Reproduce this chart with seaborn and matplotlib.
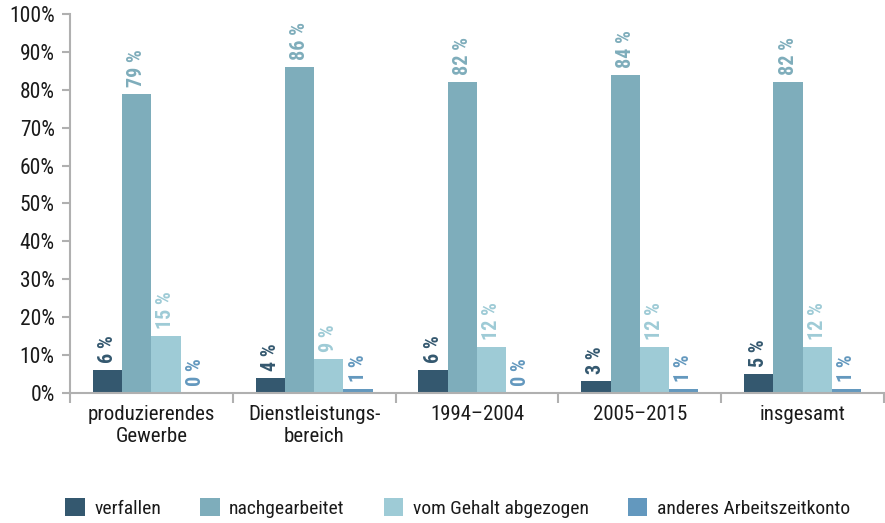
import matplotlib
matplotlib.use("Agg")
import matplotlib.pyplot as plt
import seaborn as sns
import pandas as pd
from matplotlib.patches import Patch
from matplotlib.ticker import FixedLocator, FuncFormatter

categories = ["produzierendes\nGewerbe", "Dienstleistungs-\nbereich", "1994–2004", "2005–2015", "insgesamt"]
series = ["verfallen", "nachgearbeitet", "vom Gehalt abgezogen", "anderes Arbeitszeitkonto"]
verfallen = [6, 4, 6, 3, 5]
nachgearbeitet = [79, 86, 82, 84, 82]
vom_gehalt = [15, 9, 12, 12, 12]
anderes = [0, 1, 0, 1, 1]
colors = ["#34586f", "#7eadbb", "#9ecbd6", "#6398be"]

values = [verfallen, nachgearbeitet, vom_gehalt, anderes]
rows = []
for s, vals in zip(series, values):
    for c, v in zip(categories, vals):
        rows.append({"Kategorie": c, "Serie": s, "Wert": v})
df = pd.DataFrame(rows)

sns.set_theme(style="white")
plt.rcParams["font.family"] = ["Roboto Condensed", "DejaVu Sans"]

fig = plt.figure(figsize=(8.85, 5.23), dpi=100)
ax = fig.add_axes([0.079, 0.249, 0.92, 0.724])

sns.barplot(data=df, x="Kategorie", y="Wert", hue="Serie", order=categories,
            hue_order=series, palette=colors, width=0.72, gap=0, saturation=1,
            edgecolor="none", linewidth=0, legend=False, ax=ax, errorbar=None)

for cont, col in zip(ax.containers, colors):
    for bar in cont:
        h = bar.get_height()
        ax.annotate(f"{int(round(h))} %", (bar.get_x() + bar.get_width() / 2, h),
                    xytext=(0, 5), textcoords="offset points", rotation=90,
                    ha="center", va="bottom", color=col, fontsize=14.5, fontweight="bold")

ax.set_ylim(0, 100)
ax.set_xlim(-0.5, 4.5)
ax.yaxis.set_major_locator(FixedLocator(range(0, 101, 10)))
ax.yaxis.set_major_formatter(FuncFormatter(lambda v, p: f"{int(v)}%"))
ax.tick_params(axis="y", which="major", length=6, width=1.5, color="#b0b0b0",
               labelsize=15.5, pad=5, left=True, labelcolor="#1a1a1a")
ax.xaxis.set_minor_locator(FixedLocator([i - 0.5 for i in range(6)]))
ax.tick_params(axis="x", which="major", length=0, labelsize=15, pad=9, labelcolor="#1a1a1a")
ax.tick_params(axis="x", which="minor", length=7, width=1.5, color="#b0b0b0", bottom=True)
ax.set_xlabel("")
ax.set_ylabel("")
for side in ["top", "right"]:
    ax.spines[side].set_visible(False)
for side in ["left", "bottom"]:
    ax.spines[side].set_color("#b0b0b0")
    ax.spines[side].set_linewidth(1.5)

handles = [Patch(facecolor=c, edgecolor="none") for c in colors]
fig.legend(handles, series, loc="center", bbox_to_anchor=(0.517, 1 - 508 / 523), ncol=4,
           frameon=False, fontsize=14, handlelength=1.0, handleheight=1.0,
           columnspacing=2.0, handletextpad=0.5, labelcolor="#1a1a1a")

fig.savefig("out.png", dpi=100)
